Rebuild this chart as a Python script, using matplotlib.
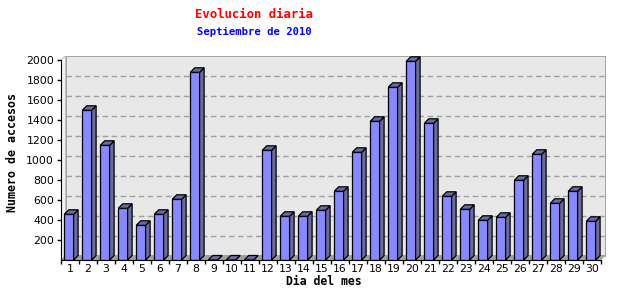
import numpy as np
import matplotlib
matplotlib.use('Agg')
from matplotlib import pyplot as plt
from matplotlib.patches import Polygon, Rectangle

# data
dias = list(range(1, 31))
accesos = [457, 1497, 1147, 517, 347, 457, 607, 1877, 0, 0,
           0, 1097, 437, 437, 497, 687, 1077, 1387, 1727, 1987,
           1367, 637, 507, 397, 427, 797, 1057, 567, 687, 387]
yticks = list(range(200, 2001, 200))

titulo = 'Evolucion diaria'
subtitulo = 'Septiembre de 2010'
xlabel = 'Dia del mes'
ylabel = 'Numero de accesos'

W, H = 640, 300
fig = plt.figure(figsize=(W / 100, H / 100), dpi=100)
fig.patch.set_facecolor('white')

# axes in pixels: front floor at y=260, left axis at x=61
px_cat = 18.0
px_unit = 0.1
depth = 4.5
DX = depth / px_cat
DY = depth / px_unit
ymax = 2000
x0, x1 = 0.5, 30.5
left_px, bottom_px = 61, 260
width_px = (x1 + DX - x0) * px_cat
height_px = (ymax + DY) * px_unit
ax = fig.add_axes([left_px / W, (H - bottom_px) / H, width_px / W, height_px / H])
ax.set_xlim(x0, x1 + DX)
ax.set_ylim(0, ymax + DY)
ax.set_facecolor('none')
for s in ['top', 'right']:
    ax.spines[s].set_visible(False)

# back wall, side wall and floor
ax.add_patch(Rectangle((x0 + DX, DY), x1 - x0, ymax, facecolor='#e8e8e8',
                       edgecolor='#999999', lw=1.2, zorder=0))
ax.add_patch(Polygon([(x0, 0), (x0 + DX, DY), (x0 + DX, ymax + DY), (x0, ymax)],
                     closed=True, facecolor='#f2f2f2', edgecolor='#bbbbbb', lw=0.6, zorder=0))
ax.add_patch(Polygon([(x0, 0), (x1, 0), (x1 + DX, DY), (x0 + DX, DY)],
                     closed=True, facecolor='#a0a0a0', edgecolor='none', zorder=0.5))

for v in yticks[:-1]:
    ax.plot([x0 + DX, x1 + DX], [v + DY, v + DY], ls=(0, (4, 2.5)), color='#a0a0a0',
            lw=1, zorder=0.6)

# bars
front_col = '#8888ff'
side_col = '#6b6ba3'
fl, fw = -0.32, 0.52
for d, v in zip(dias, accesos):
    xl = d + fl
    xr = xl + fw
    ax.add_patch(Rectangle((xl, 0), fw, v, facecolor=front_col, edgecolor='black',
                           lw=0.9, zorder=2))
    ax.add_patch(Polygon([(xr, 0), (xr + DX, DY), (xr + DX, v + DY), (xr, v)],
                         closed=True, facecolor=side_col, edgecolor='black', lw=0.9, zorder=2))
    ax.add_patch(Polygon([(xl, v), (xr, v), (xr + DX, v + DY), (xl + DX, v + DY)],
                         closed=True, facecolor=side_col, edgecolor='black', lw=0.9, zorder=2))

# axes lines and ticks
ax.spines['left'].set_bounds(0, ymax)
ax.spines['bottom'].set_bounds(x0, x1)
ax.spines['left'].set_zorder(3)
ax.spines['bottom'].set_zorder(3)
ax.set_yticks(yticks)
ax.set_yticklabels([str(v) for v in yticks])
ax.tick_params(axis='y', length=3, width=1, pad=2, labelsize=7.8)
ax.set_xticks(dias)
ax.set_xticklabels([str(d) for d in dias])
ax.set_xticks(np.arange(x0, x1 + 0.01, 1.0), minor=True)
ax.tick_params(axis='x', which='major', length=0, pad=3, labelsize=7.8)
ax.tick_params(axis='x', which='minor', length=3, width=1)

# texts
fig.text(254 / W, 1 - 14 / H, titulo, color='red', fontsize=8.8, fontweight='bold',
         family='DejaVu Sans Mono', ha='center', va='center')
fig.text(254 / W, 1 - 32 / H, subtitulo, color='blue', fontsize=7.6, fontweight='bold',
         family='DejaVu Sans Mono', ha='center', va='center')
fig.text(324 / W, 1 - 281.5 / H, xlabel, color='black', fontsize=8.3, fontweight='bold',
         family='DejaVu Sans Mono', ha='center', va='center')
fig.text(12.5 / W, 1 - 152.5 / H, ylabel, color='black', fontsize=8.4, fontweight='bold',
         family='DejaVu Sans Mono', ha='center', va='center', rotation=90)

plt.savefig('out.png', dpi=100)
